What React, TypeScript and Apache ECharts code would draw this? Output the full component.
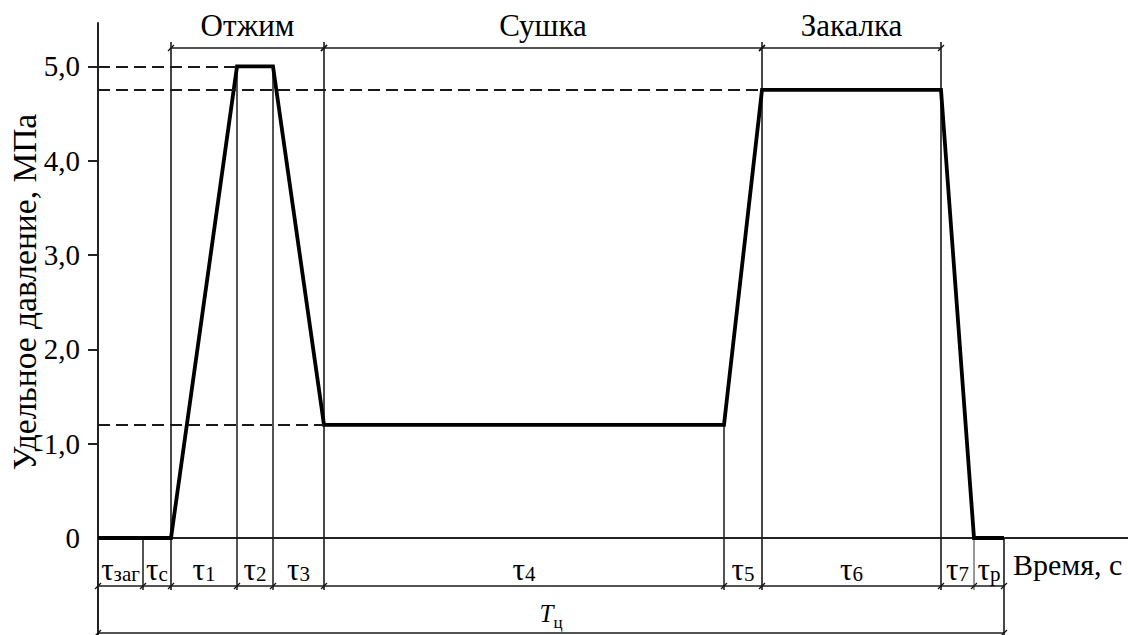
import React, { useEffect, useRef } from "react";
import * as echarts from "echarts";

// Stage durations of one press cycle (time units along the x axis)
const stageSubscripts = ["заг", "с", "1", "2", "3", "4", "5", "6", "7", "р"];
const stageDurations = [45, 28, 66, 36, 51, 400, 38, 179, 33, 30];
// Specific pressure (MPa) reached at the end of each stage
const startPressure = 0;
const pressureAtStageEnd = [0, 0, 5.0, 5.0, 1.2, 1.2, 4.75, 4.75, 0, 0];

// Process phases spanning several stages
const phaseNames = ["Отжим", "Сушка", "Закалка"];
const phaseFirstStage = [2, 5, 7];
const phaseLastStage = [4, 6, 7];

// Y axis ticks and dashed reference levels
const yTickValues = [0, 1, 2, 3, 4, 5];
const referenceLevels = [5.0, 4.75, 1.2];

const yAxisTitle = "Удельное давление, МПа";
const xAxisTitle = "Время, с";
const cycleSymbol = "T";
const cycleSubscript = "ц";

const X_MAX = 1030;
const Y_MAX = 5.46;
const FONT = "Liberation Serif, Times New Roman, serif";
const INK = "#111";
const THIN = "#1a1a1a";

// cumulative stage boundaries and curve points
const boundaries: number[] = [0];
stageDurations.forEach((d, i) => boundaries.push(boundaries[i] + d));
const pressures: number[] = [startPressure, ...pressureAtStageEnd];
const curve = boundaries.map((t, i) => [t, pressures[i]]);

const phaseBoundaryIdx = new Set<number>();
phaseFirstStage.forEach((s, k) => {
  phaseBoundaryIdx.add(s);
  phaseBoundaryIdx.add(phaseLastStage[k] + 1);
});

function formatTick(v: number) {
  return v === 0 ? "0" : v.toFixed(1).replace(".", ",");
}

function buildOption(): echarts.EChartsOption {
  const refLines = referenceLevels.map((level) => {
    const idx = pressures.findIndex((p) => p === level);
    return [{ coord: [0, level] }, { coord: [boundaries[idx], level] }];
  });

  const renderAnnotations = (params: any, api: any) => {
    const px = (t: number) => api.coord([t, 0])[0];
    const py = (v: number) => api.coord([0, v])[1];
    const y0 = py(0);
    const yTop = py(Y_MAX);
    const phaseDimY = yTop + 25;
    const stageDimY = y0 + 48;
    const totalDimY = y0 + 95;
    const children: any[] = [];

    const line = (x1: number, y1: number, x2: number, y2: number, w = 1.6, c = THIN) =>
      children.push({
        type: "line",
        shape: { x1, y1, x2, y2 },
        style: { stroke: c, lineWidth: w },
        silent: true,
      });
    const mark = (x: number, y: number) => line(x - 3, y + 3, x + 3, y - 3, 1.3, INK);

    const last = boundaries.length - 1;

    // boundary verticals
    boundaries.forEach((t, i) => {
      const x = px(t);
      const yc = py(pressures[i]);
      if (i === 0) {
        line(x, y0, x, totalDimY + 3, 2, "#222");
      } else if (i === last) {
        line(x, yc, x, totalDimY + 3);
      } else if (phaseBoundaryIdx.has(i)) {
        line(x, phaseDimY - 6, x, stageDimY + 4);
      } else {
        line(x, yc, x, stageDimY + 4, 1.5, i === last - 1 ? "#777" : THIN);
      }
      mark(x, stageDimY);
    });

    // dimension lines
    line(px(0), stageDimY, px(boundaries[last]), stageDimY);
    line(px(0), totalDimY, px(boundaries[last]), totalDimY);
    mark(px(0), totalDimY);
    mark(px(boundaries[last]), totalDimY);
    const phaseStartX = px(boundaries[phaseFirstStage[0]]);
    const phaseEndX = px(boundaries[phaseLastStage[phaseLastStage.length - 1] + 1]);
    line(phaseStartX, phaseDimY, phaseEndX, phaseDimY);

    // phase labels
    phaseNames.forEach((name, k) => {
      const a = px(boundaries[phaseFirstStage[k]]);
      const b = px(boundaries[phaseLastStage[k] + 1]);
      mark(a, phaseDimY);
      mark(b, phaseDimY);
      children.push({
        type: "text",
        silent: true,
        style: {
          text: name,
          x: (a + b) / 2,
          y: phaseDimY - 23,
          fill: "#000",
          fontSize: 31,
          fontFamily: FONT,
          align: "center",
          verticalAlign: "middle",
        },
      });
    });

    // stage labels
    stageSubscripts.forEach((sub, i) => {
      const a = px(boundaries[i]);
      const b = px(boundaries[i + 1]);
      children.push({
        type: "text",
        silent: true,
        style: {
          text: `{m|τ}{s|${sub}}`,
          x: (a + b) / 2,
          y: y0 + 31,
          align: "center",
          verticalAlign: "middle",
          rich: {
            m: { fontSize: 31, fontFamily: FONT, fill: "#000" },
            s: { fontSize: 21, fontFamily: FONT, fill: "#000", verticalAlign: "bottom" },
          },
        },
      });
    });

    // x axis title
    children.push({
      type: "text",
      silent: true,
      style: {
        text: xAxisTitle,
        x: px(boundaries[last]) + 9,
        y: y0 + 26,
        fill: "#000",
        fontSize: 30,
        fontFamily: FONT,
        align: "left",
        verticalAlign: "middle",
      },
    });

    // cycle time label
    children.push({
      type: "text",
      silent: true,
      style: {
        text: `{t|${cycleSymbol}}{s|${cycleSubscript}}`,
        x: (px(0) + px(boundaries[last])) / 2,
        y: y0 + 78,
        align: "center",
        verticalAlign: "middle",
        rich: {
          t: { fontSize: 25, fontStyle: "italic", fontFamily: FONT, fill: "#000", padding: [0, 0, 5, 0] },
          s: { fontSize: 17, fontFamily: FONT, fill: "#000", verticalAlign: "bottom" },
        },
      },
    });

    return { type: "group", children };
  };

  return {
    animation: false,
    backgroundColor: "#fff",
    grid: { left: 98, right: 0, top: 23, bottom: 97, containLabel: false, outerBoundsMode: "none" } as any,
    xAxis: {
      type: "value",
      min: 0,
      max: X_MAX,
      axisLine: { show: true, onZero: true, lineStyle: { color: "#222", width: 2 } },
      axisTick: { show: false },
      axisLabel: { show: false },
      splitLine: { show: false },
    },
    yAxis: {
      type: "value",
      min: 0,
      max: Y_MAX,
      interval: 1,
      axisLine: { show: true, lineStyle: { color: "#222", width: 2 } },
      axisTick: {
        show: true,
        inside: false,
        length: 10,
        lineStyle: { color: "#222", width: 2 },
        customValues: yTickValues.filter((v) => v > 0),
      } as any,
      axisLabel: {
        margin: 18,
        fontSize: 29,
        fontFamily: FONT,
        color: "#000",
        customValues: yTickValues,
        formatter: (v: number) => (yTickValues.includes(v) ? formatTick(v) : ""),
      } as any,
      splitLine: { show: false },
    },
    graphic: [
      {
        type: "text",
        x: 24,
        y: 292,
        rotation: Math.PI / 2,
        silent: true,
        style: {
          text: yAxisTitle,
          fontSize: 33.5,
          fontFamily: FONT,
          fill: "#000",
          align: "center",
          verticalAlign: "middle",
        },
      },
    ],
    series: [
      {
        type: "custom",
        z: 1,
        data: [[0, 0]],
        renderItem: renderAnnotations as any,
        clip: false,
        silent: true,
      } as any,
      {
        type: "line",
        z: 3,
        data: curve,
        symbol: "none",
        lineStyle: { color: "#000", width: 3.8, join: "miter" } as any,
        silent: true,
        markLine: {
          silent: true,
          symbol: ["none", "none"],
          label: { show: false },
          lineStyle: { type: [12, 6], width: 1.8, color: "#1a1a1a" },
          data: refLines as any,
        },
      },
    ],
  };
}

export default function App() {
  const ref = useRef<HTMLDivElement>(null);
  useEffect(() => {
    if (!ref.current) return;
    const chart = echarts.init(ref.current, undefined, { renderer: "svg" });
    chart.setOption(buildOption());
    return () => chart.dispose();
  }, []);
  return (
    <div
      ref={ref}
      style={{ position: "fixed", left: 0, top: 0, width: 1128, height: 635, background: "#fff" }}
    />
  );
}
